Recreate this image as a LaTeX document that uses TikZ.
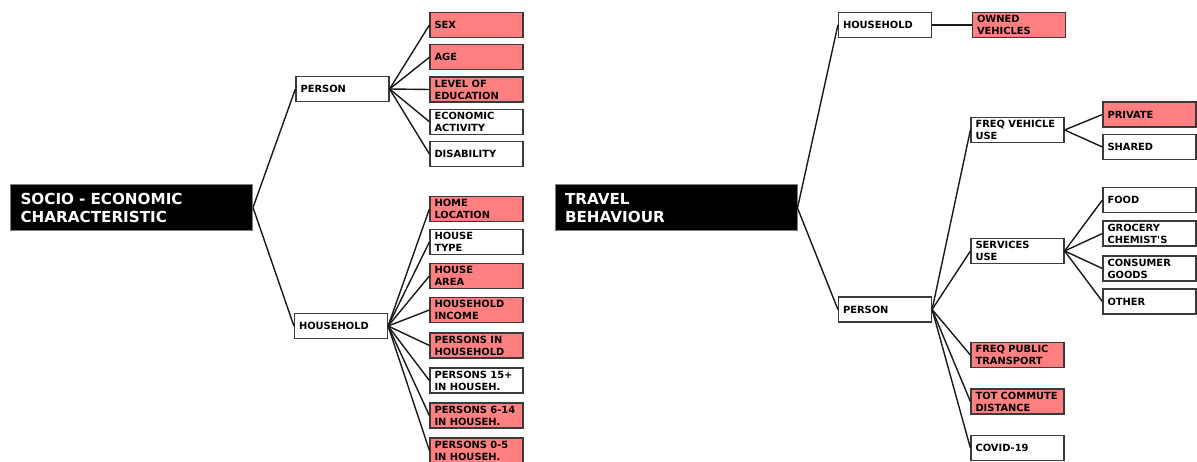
\documentclass[tikz,border=0pt]{standalone}
\usepackage{fontspec}
\newfontfamily\boxfont{DejaVu Sans}
\definecolor{salmon}{HTML}{FF8080}
\definecolor{edgegray}{HTML}{3A3A3A}
\hyphenpenalty=10000
\tikzset{
  leaf/.style={draw=edgegray, line width=1.2pt, fill=white, rectangle,
    text width=84pt, inner xsep=4.5pt, inner ysep=0pt, minimum height=25pt,
    align=left, font=\boxfont\bfseries\fontsize{9.9}{12}\selectfont},
  hit/.style={leaf, fill=salmon},
  headbox/.style={draw=gray, line width=1pt, fill=black, text=white, rectangle,
    text width=222pt, inner xsep=10pt, inner ysep=0pt, minimum height=46pt,
    align=left, font=\boxfont\bfseries\fontsize{15.2}{18}\selectfont},
  link/.style={line width=1.4pt, draw=black!90}
}
\begin{document}
\begin{tikzpicture}[x=1pt, y=1pt]
  \useasboundingbox (0,0) rectangle (1197,-462);
  % socio-economic side
  \node(Socio)  [headbox] at (131.5,-207.5) {SOCIO - ECONOMIC\\CHARACTERISTIC};
  \node(LPerson) [leaf] at (342.5,-89) {PERSON};
  \node(Sex)    [hit] at (476.5,-25) {SEX};
  \node(Age)    [hit, below of=Sex, node distance=32.25pt] {AGE};
  \node(Edu)    [hit, below of=Age, node distance=32.25pt] {LEVEL OF\\EDUCATION};
  \node(Econ)   [leaf, below of=Edu, node distance=32.25pt] {ECONOMIC\\ACTIVITY};
  \node(Disab)  [leaf, below of=Econ, node distance=32.25pt] {DISABILITY};
  \node(LHouse) [leaf] at (341,-326) {HOUSEHOLD};
  \node(HomeLoc)  [hit] at (476.5,-209) {HOME\\LOCATION};
  \node(HouseType)[leaf, below of=HomeLoc, node distance=33pt] {HOUSE\\TYPE};
  \node(HouseArea)[hit, below of=HouseType, node distance=34pt] {HOUSE\\AREA};
  \node(Income)   [hit, below of=HouseArea, node distance=34pt] {HOUSEHOLD\\INCOME};
  \node(PersHH)   [hit, below of=Income, node distance=35.5pt] {PERSONS IN\\HOUSEHOLD};
  \node(Pers15)   [leaf, below of=PersHH, node distance=35pt] {PERSONS 15+\\IN HOUSEH.};
  \node(Pers6)    [hit, below of=Pers15, node distance=35pt] {PERSONS 6-14\\IN HOUSEH.};
  \node(Pers0)    [hit, below of=Pers6, node distance=35pt] {PERSONS 0-5\\IN HOUSEH.};
  \draw[link](Socio.east)   -- (LPerson.west);
  \draw[link](Socio.east)   -- (LHouse.west);
  \draw[link](LPerson.east) -- (Sex.west);
  \draw[link](LPerson.east) -- (Age.west);
  \draw[link](LPerson.east) -- (Edu.west);
  \draw[link](LPerson.east) -- (Econ.west);
  \draw[link](LPerson.east) -- (Disab.west);
  \draw[link](LHouse.east)  -- (HomeLoc.west);
  \draw[link](LHouse.east)  -- (HouseType.west);
  \draw[link](LHouse.east)  -- (HouseArea.west);
  \draw[link](LHouse.east)  -- (Income.west);
  \draw[link](LHouse.east)  -- (PersHH.west);
  \draw[link](LHouse.east)  -- (Pers15.west);
  \draw[link](LHouse.east)  -- (Pers6.west);
  \draw[link](LHouse.east)  -- (Pers0.west);
  % travel side
  \node(Travel) [headbox] at (676,-208) {TRAVEL\\BEHAVIOUR};
  \node(RHouse) [leaf] at (885,-25) {HOUSEHOLD};
  \node(Owned)  [hit, right of=RHouse, node distance=134pt] {OWNED\\VEHICLES};
  \node(RPerson) [leaf] at (885,-309.5) {PERSON};
  \node(FreqVeh) [leaf] at (1017.5,-130) {FREQ VEHICLE\\USE};
  \node(Private) [hit] at (1149.5,-114.5) {PRIVATE};
  \node(Shared)  [leaf, below of=Private, node distance=32.5pt] {SHARED};
  \node(Services)[leaf] at (1017.5,-251) {SERVICES\\USE};
  \node(Food)    [leaf] at (1149.5,-200) {FOOD};
  \node(Grocery) [leaf, below of=Food, node distance=33.5pt] {GROCERY\\CHEMIST'S};
  \node(Consumer)[leaf, below of=Grocery, node distance=35pt] {CONSUMER\\GOODS};
  \node(Other)   [leaf, below of=Consumer, node distance=33pt] {OTHER};
  \node(FreqPub) [hit] at (1017.5,-355) {FREQ PUBLIC\\TRANSPORT};
  \node(Commute) [hit, below of=FreqPub, node distance=46.5pt] {TOT COMMUTE\\DISTANCE};
  \node(Covid)   [leaf, below of=Commute, node distance=46.5pt] {COVID-19};
  \draw[link](Travel.east)   -- (RHouse.west);
  \draw[link](Travel.east)   -- (RPerson.west);
  \draw[link](RHouse.east)   -- (Owned.west);
  \draw[link](RPerson.east)  -- (FreqVeh.west);
  \draw[link](RPerson.east)  -- (Services.west);
  \draw[link](RPerson.east)  -- (FreqPub.west);
  \draw[link](RPerson.east)  -- (Commute.west);
  \draw[link](RPerson.east)  -- (Covid.west);
  \draw[link](FreqVeh.east)  -- (Private.west);
  \draw[link](FreqVeh.east)  -- (Shared.west);
  \draw[link](Services.east) -- (Food.west);
  \draw[link](Services.east) -- (Grocery.west);
  \draw[link](Services.east) -- (Consumer.west);
  \draw[link](Services.east) -- (Other.west);
\end{tikzpicture}
\end{document}
